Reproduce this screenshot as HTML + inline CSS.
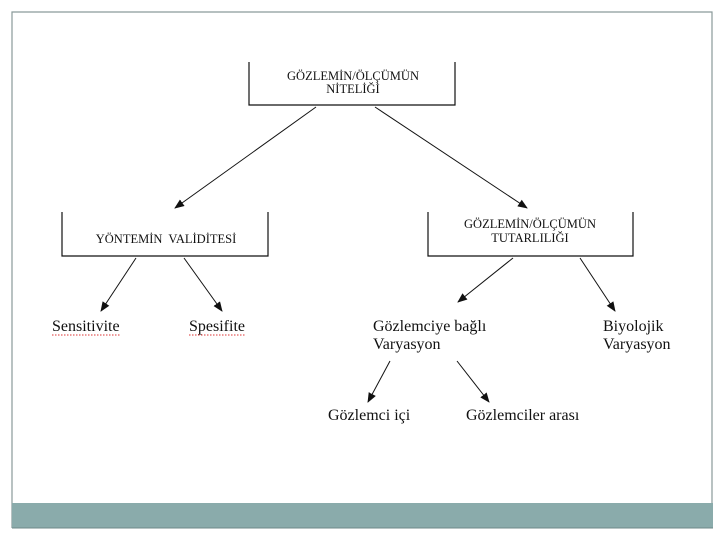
<!DOCTYPE html>
<html><head><meta charset="utf-8"><style>
html,body{margin:0;padding:0;background:#fff;}
svg{display:block;}
text{font-family:"Liberation Serif",serif;fill:#111;}
</style></head><body>
<svg width="720" height="540" viewBox="0 0 720 540" xmlns="http://www.w3.org/2000/svg">
<defs><marker id="a" markerWidth="10" markerHeight="8" refX="9" refY="4" orient="auto" markerUnits="userSpaceOnUse"><path d="M0,0 L10,4 L0,8 Z" fill="#111"/></marker></defs>
<polyline points="12,528 12,12 712,12 712,528" fill="none" stroke="#8a9a9a" stroke-width="1.2"/>
<rect x="12" y="503" width="701" height="25" fill="#8aabab"/>
<line x1="12" y1="528" x2="713" y2="528" stroke="#6f8a8a" stroke-width="1"/>
<g fill="none" stroke="#111" stroke-width="1.2">
<polyline points="249,62 249,105 455,105 455,62"/>
<polyline points="62,212 62,256 268,256 268,212"/>
<polyline points="428,212 428,256 633,256 633,212"/>
</g>
<g stroke="#111" stroke-width="1" marker-end="url(#a)">
<line x1="316" y1="107" x2="175" y2="208"/>
<line x1="375" y1="107" x2="527" y2="208"/>
<line x1="136" y1="258" x2="101" y2="311"/>
<line x1="184" y1="258" x2="222" y2="311"/>
<line x1="513" y1="258" x2="458" y2="302"/>
<line x1="580" y1="258" x2="615" y2="311"/>
<line x1="390" y1="361" x2="368" y2="402"/>
<line x1="457" y1="361" x2="489" y2="402"/>
</g>
<g font-size="12.5" text-anchor="middle">
<text x="353" y="80">GÖZLEMİN/ÖLÇÜMÜN</text>
<text x="353" y="93">NİTELİĞİ</text>
<text x="166" y="243">YÖNTEMİN&#160; VALİDİTESİ</text>
<text x="530" y="228">GÖZLEMİN/ÖLÇÜMÜN</text>
<text x="530" y="242">TUTARLILIĞI</text>
</g>
<g font-size="16">
<text x="52" y="331">Sensitivite</text>
<text x="189" y="331">Spesifite</text>
<text x="373" y="331">Gözlemciye bağlı</text>
<text x="373" y="349">Varyasyon</text>
<text x="603" y="331">Biyolojik</text>
<text x="603" y="349">Varyasyon</text>
<text x="328" y="420">Gözlemci içi</text>
<text x="466" y="420">Gözlemciler arası</text>
</g>
<g stroke="#d33" stroke-width="1" stroke-dasharray="1.5,1.5">
<line x1="52" y1="335" x2="120" y2="335"/>
<line x1="189" y1="335" x2="246" y2="335"/>
</g>
</svg>
</body></html>
